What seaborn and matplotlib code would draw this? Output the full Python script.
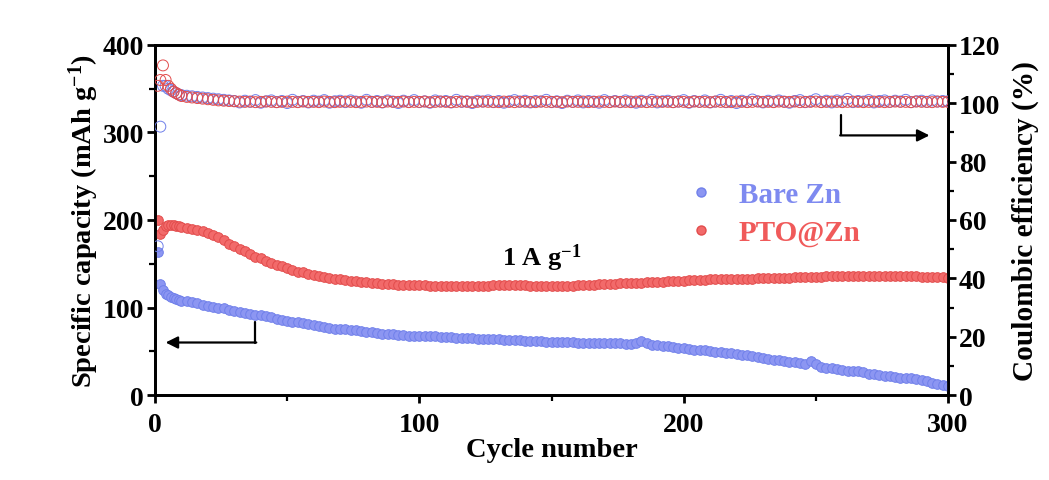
import matplotlib
matplotlib.use("Agg")
import matplotlib.pyplot as plt
import seaborn as sns
import pandas as pd
from matplotlib.ticker import MultipleLocator
from matplotlib.lines import Line2D

sns.set_style("ticks")
plt.rcParams['font.family'] = ['Liberation Serif', 'DejaVu Serif']
plt.rcParams['font.weight'] = 'bold'
plt.rcParams['mathtext.fontset'] = 'custom'
plt.rcParams['mathtext.rm'] = 'Liberation Serif:bold'
plt.rcParams['mathtext.it'] = 'Liberation Serif:bold'
plt.rcParams['mathtext.bf'] = 'Liberation Serif:bold'
plt.rcParams['mathtext.default'] = 'rm'
plt.rcParams.update({'text.color': 'black', 'axes.labelcolor': 'black',
                     'xtick.color': 'black', 'ytick.color': 'black',
                     'axes.edgecolor': 'black'})

# ---------------- data ----------------
cycles = list(range(1, 11)) + list(range(12, 301, 2))

pto_capacity = [
    200, 184, 188, 193, 194, 194, 194, 193, 193, 192,
    191, 190, 189, 187, 185, 183, 180, 177, 173, 170,
    167, 164, 161, 158, 156, 153, 151, 149, 147, 145,
    143, 141, 140, 138, 137, 136, 135, 134, 133, 132,
    131, 130, 130, 129, 129, 128, 128, 127, 127, 127,
    126, 126, 126, 126, 126, 126, 125, 125, 125, 125,
    125, 125, 125, 125, 125, 125, 125, 125, 126, 126,
    126, 126, 126, 126, 126, 125, 125, 125, 125, 125,
    125, 125, 125, 125, 126, 126, 126, 126, 127, 127,
    127, 127, 128, 128, 128, 128, 128, 129, 129, 129,
    129, 130, 130, 130, 130, 131, 131, 131, 131, 132,
    132, 132, 132, 133, 133, 133, 133, 133, 134, 134,
    134, 134, 134, 134, 134, 135, 135, 135, 135, 135,
    135, 136, 136, 136, 136, 136, 136, 136, 136, 136,
    136, 136, 136, 136, 136, 136, 136, 136, 136, 135,
    135, 135, 135, 135, 134,
]

bare_capacity = [
    163, 127, 120, 116, 114, 112, 111, 110, 109, 108,
    107, 106, 105, 103, 102, 101, 100, 99, 97, 96,
    95, 94, 93, 92, 91, 90, 89, 87, 86, 85,
    84, 83, 82, 81, 80, 79, 78, 77, 76, 76,
    75, 74, 74, 73, 72, 72, 71, 70, 70, 70,
    69, 69, 68, 68, 68, 67, 67, 67, 66, 66,
    66, 65, 65, 65, 65, 64, 64, 64, 64, 64,
    63, 63, 63, 63, 62, 62, 62, 62, 61, 61,
    61, 61, 61, 61, 60, 60, 60, 60, 60, 59,
    59, 59, 59, 58, 58, 60, 62, 59, 57, 57,
    56, 56, 55, 54, 54, 53, 52, 52, 51, 50,
    49, 49, 48, 48, 47, 46, 46, 45, 43, 42,
    41, 40, 40, 39, 38, 38, 37, 36, 39, 35,
    32, 31, 31, 30, 29, 28, 28, 27, 26, 24,
    24, 23, 22, 22, 21, 20, 20, 19, 18, 17,
    16, 14, 13, 12, 10,
]

pto_ce = [
    106, 108, 113, 108, 106, 105, 104, 103.5, 103, 102.5,
    102.2, 102.0, 101.8, 101.6, 101.4, 101.2, 101.0, 100.9, 100.8, 100.7,
    100.6, 100.5, 100.6, 100.4, 100.5, 100.6, 100.5, 100.4, 100.5, 100.6,
    100.5, 100.4, 100.6, 100.5, 100.5, 100.4, 100.6, 100.5, 100.4, 100.5,
    100.6, 100.5, 100.4, 100.5, 100.6, 100.5, 100.5, 100.4, 100.6, 100.5,
    100.5, 100.6, 100.4, 100.5, 100.5, 100.6, 100.4, 100.5, 100.6, 100.5,
    100.4, 100.5, 100.6, 100.5, 100.4, 100.5, 100.6, 100.5, 100.5, 100.4,
    100.6, 100.5, 100.4, 100.6, 100.5, 100.5, 100.4, 100.6, 100.5, 100.5,
    100.5, 100.4, 100.6, 100.5, 100.5, 100.6, 100.4, 100.5, 100.6, 100.5,
    100.4, 100.6, 100.5, 100.5, 100.4, 100.6, 100.5, 100.4, 100.5, 100.6,
    100.5, 100.5, 100.4, 100.6, 100.5, 100.4, 100.6, 100.5, 100.5, 100.4,
    100.6, 100.5, 100.5, 100.4, 100.6, 100.5, 100.4, 100.5, 100.6, 100.5,
    100.5, 100.4, 100.6, 100.5, 100.5, 100.6, 100.4, 100.5, 100.5, 100.6,
    100.4, 100.5, 100.6, 100.5, 100.4, 100.5, 100.6, 100.5, 100.4, 100.5,
    100.6, 100.5, 100.4, 100.5, 100.6, 100.5, 100.5, 100.4, 100.6, 100.5,
    100.5, 100.4, 100.6, 100.5, 100.5,
]

bare_ce = [
    51, 92, 106, 106, 105, 104.5, 104, 103.5, 103, 102.8,
    102.6, 102.4, 102.2, 102.0, 101.8, 101.6, 101.4, 101.2, 101.0, 100.8,
    100.3, 100.9, 100.5, 101.1, 100.2, 100.7, 101.0, 100.4, 100.8, 100.1,
    101.2, 100.5, 100.8, 100.3, 100.9, 100.6, 101.1, 100.2, 100.7, 100.9,
    100.4, 101.0, 100.6, 100.2, 101.2, 100.5, 100.8, 100.3, 101.0, 100.6,
    100.1, 100.9, 100.5, 101.1, 100.4, 100.7, 100.2, 101.0, 100.6, 100.8,
    100.3, 101.2, 100.5, 100.7, 100.1, 100.9, 100.6, 101.0, 100.4, 100.8,
    100.2, 100.7, 101.1, 100.5, 100.9, 100.3, 100.8, 100.6, 101.2, 100.4,
    100.7, 100.1, 100.9, 100.5, 101.0, 100.3, 100.8, 100.6, 100.2, 101.1,
    100.5, 100.8, 100.4, 101.0, 100.6, 100.2, 100.9, 100.5, 101.2, 100.3,
    100.7, 100.9, 100.4, 100.6, 101.1, 100.2, 100.8, 100.5, 101.0, 100.3,
    100.6, 101.2, 100.4, 100.8, 100.1, 100.9, 100.5, 101.3, 100.7, 100.3,
    100.9, 100.5, 101.0, 100.6, 100.2, 100.8, 101.1, 100.4, 100.7, 101.4,
    100.5, 100.9, 100.3, 101.0, 100.6, 101.5, 100.4, 100.8, 100.6, 101.1,
    100.3, 100.8, 101.0, 100.5, 100.9, 100.6, 101.2, 100.4, 100.7, 100.9,
    100.5, 101.0, 100.6, 100.8, 100.7,
]

series_names = ["Bare Zn", "PTO@Zn"]
rate_label = "1 A g$^{-1}$"

blue_fill, blue_edge = "#8C96F2", "#7080EA"
red_fill, red_edge = "#F26A6A", "#E24C4C"
blue_text, red_text = "#7E8AF0", "#F05A5A"

df_cap = pd.DataFrame({"cycle": cycles, "bare": bare_capacity, "pto": pto_capacity})
df_ce = pd.DataFrame({"cycle": cycles, "bare": bare_ce, "pto": pto_ce})

# ---------------- figure ----------------
fig = plt.figure(figsize=(10.49, 4.81), dpi=100)
ax = fig.add_axes([0.1478, 0.1767, 0.7559, 0.7277])
ax2 = ax.twinx()

sns.scatterplot(data=df_cap, x="cycle", y="bare", ax=ax, s=48, color=blue_fill,
                edgecolor=blue_edge, linewidth=0.7, zorder=3)
sns.scatterplot(data=df_cap, x="cycle", y="pto", ax=ax, s=48, color=red_fill,
                edgecolor=red_edge, linewidth=0.7, zorder=3)
sns.scatterplot(data=df_ce, x="cycle", y="bare", ax=ax2, s=62, facecolor="none",
                edgecolor=blue_edge, linewidth=0.7, zorder=3)
sns.scatterplot(data=df_ce, x="cycle", y="pto", ax=ax2, s=62, facecolor="none",
                edgecolor=red_edge, linewidth=0.7, zorder=4)

ax.set_xlim(0, 300)
ax.set_ylim(0, 400)
ax2.set_ylim(0, 120)

ax.xaxis.set_major_locator(MultipleLocator(100))
ax.xaxis.set_minor_locator(MultipleLocator(50))
ax.yaxis.set_major_locator(MultipleLocator(100))
ax.yaxis.set_minor_locator(MultipleLocator(50))
ax2.yaxis.set_major_locator(MultipleLocator(20))
ax2.yaxis.set_minor_locator(MultipleLocator(10))

for a in (ax, ax2):
    for sp in a.spines.values():
        sp.set_linewidth(2.0)
        sp.set_color("black")
        sp.set_visible(True)
    a.tick_params(which="major", direction="out", length=6, width=2.0,
                  labelsize=20, colors="black", pad=2)
    a.tick_params(which="minor", direction="out", length=4, width=1.6)
    for lab in a.get_xticklabels() + a.get_yticklabels():
        lab.set_fontweight("bold")
ax.tick_params(axis="x", which="major", pad=6)

ax.set_xlabel("Cycle number", fontsize=20.5, fontweight="bold", labelpad=0)
ax.set_ylabel("Specific capacity (mAh g$^{-1}$)", fontsize=20.5, fontweight="bold", labelpad=1)
ax2.set_ylabel("Coulombic efficiency (%)", fontsize=21.2, fontweight="bold", labelpad=8)

# annotation text
ax.text(0.488, 0.394, rate_label, transform=ax.transAxes, fontsize=19,
        fontweight="bold", ha="center", va="center", color="black")

# arrows
ax.plot([38, 38], [83, 60], color="black", lw=1.6, zorder=5)
ax.annotate("", xy=(4, 60), xytext=(38.3, 60),
            arrowprops=dict(arrowstyle="-|>", color="black", lw=1.6,
                            mutation_scale=18, shrinkA=0, shrinkB=0), zorder=5)
ax2.plot([259.5, 259.5], [96, 89], color="black", lw=1.6, zorder=5)
ax2.annotate("", xy=(293, 89), xytext=(259.2, 89),
             arrowprops=dict(arrowstyle="-|>", color="black", lw=1.6,
                             mutation_scale=18, shrinkA=0, shrinkB=0), zorder=5)

# legend
handles = [
    Line2D([], [], ls="none", marker="o", markersize=6.5, markerfacecolor=blue_fill,
           markeredgecolor=blue_edge),
    Line2D([], [], ls="none", marker="o", markersize=6.5, markerfacecolor=red_fill,
           markeredgecolor=red_edge),
]
leg = ax2.legend(handles, series_names, loc="upper left", bbox_to_anchor=(0.637, 0.645),
                 frameon=False, prop={"size": 21, "weight": "bold"},
                 labelcolor=[blue_text, red_text], handletextpad=0.3,
                 labelspacing=0.38, borderaxespad=0)

fig.savefig("out.png", dpi=100)
